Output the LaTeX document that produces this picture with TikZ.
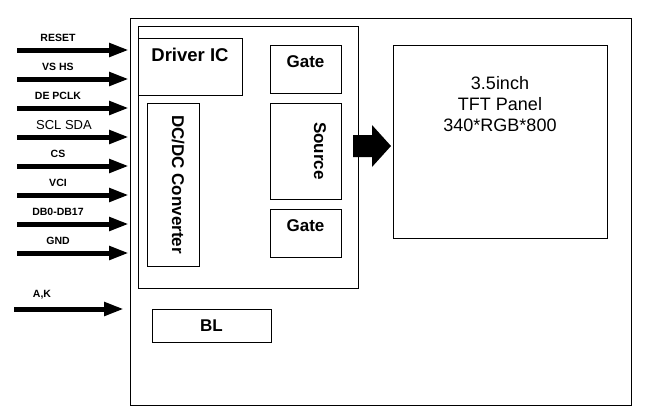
\documentclass[tikz,border=0pt]{standalone}
\usepackage{fontspec}
\setmainfont{Liberation Sans}
\usetikzlibrary{arrows.meta}
\tikzset{
  blk/.style={draw,line width=0.8pt,inner sep=0pt},
  sig/.style={line width=5pt,-{Triangle[length=20pt,width=13pt]}},
  lbl/.style={font=\bfseries\fontsize{10.5}{12}\selectfont,anchor=south},
  big/.style={font=\bfseries\fontsize{17}{20}\selectfont}
}
\begin{document}
\begin{tikzpicture}[x=1pt,y=-1pt]
\useasboundingbox (0,0) rectangle (646,416);
% frames
\draw[line width=0.8pt] (130,18) rectangle (631,405);
\draw[line width=0.8pt] (138,26) rectangle (358,288);
\draw[line width=0.8pt] (138,38) rectangle (242,95);
\node[big,font=\bfseries\fontsize{18.5}{20}\selectfont] (ic) at (190,55) {Driver IC};
\node[blk,minimum width=52pt,minimum height=163pt] (dcdc) at (173,184.5) {};
\node[big,rotate=-90] at (178,184.5) {DC/DC Converter};
\node[blk,minimum width=71pt,minimum height=48pt] (gate1) at (305.5,69) {};
\node[big] at (305.5,62) {Gate};
\node[blk,minimum width=71pt,minimum height=96pt] (src) at (305.5,151) {};
\node[big,rotate=-90] at (320,151) {Source};
\node[blk,minimum width=71pt,minimum height=48pt] (gate2) at (305.5,233) {};
\node[big] at (305.5,226) {Gate};
\node[blk,minimum width=214pt,minimum height=193pt] (panel) at (500,141.5) {};
\node[align=center,font=\fontsize{18}{21}\selectfont] at (500,104) {3.5inch\\TFT Panel\\340*RGB*800};
\node[blk,minimum width=119pt,minimum height=33pt,big] (bl) at (211.5,325.5) {BL};
% big arrow
\fill (353,135) -- (372,135) -- (372,125) -- (391,146) -- (372,167) -- (372,157) -- (353,157) -- cycle;
% signals
\foreach \y/\t in {50/RESET,79/VS HS,108/DE PCLK,166/CS,195/VCI,224/DB0-DB17,253/GND}{
  \coordinate (s\y) at (17,\y);
  \coordinate (e\y) at (129,\y);
  \draw[sig] (s\y) -- (e\y);
  \node[lbl] at (58,\y-5) {\t};
}
\coordinate (s137) at (17,137);
\coordinate (e137) at (129,137);
\draw[sig] (s137) -- (e137);
\node[anchor=south,font=\fontsize{13}{15}\selectfont] at (64,133) {SCL SDA};
\coordinate (sak) at (14,309);
\coordinate (eak) at (124,309);
\draw[sig] (sak) -- (eak);
\node[lbl] at (42,303) {A,K};
\end{tikzpicture}
\end{document}
